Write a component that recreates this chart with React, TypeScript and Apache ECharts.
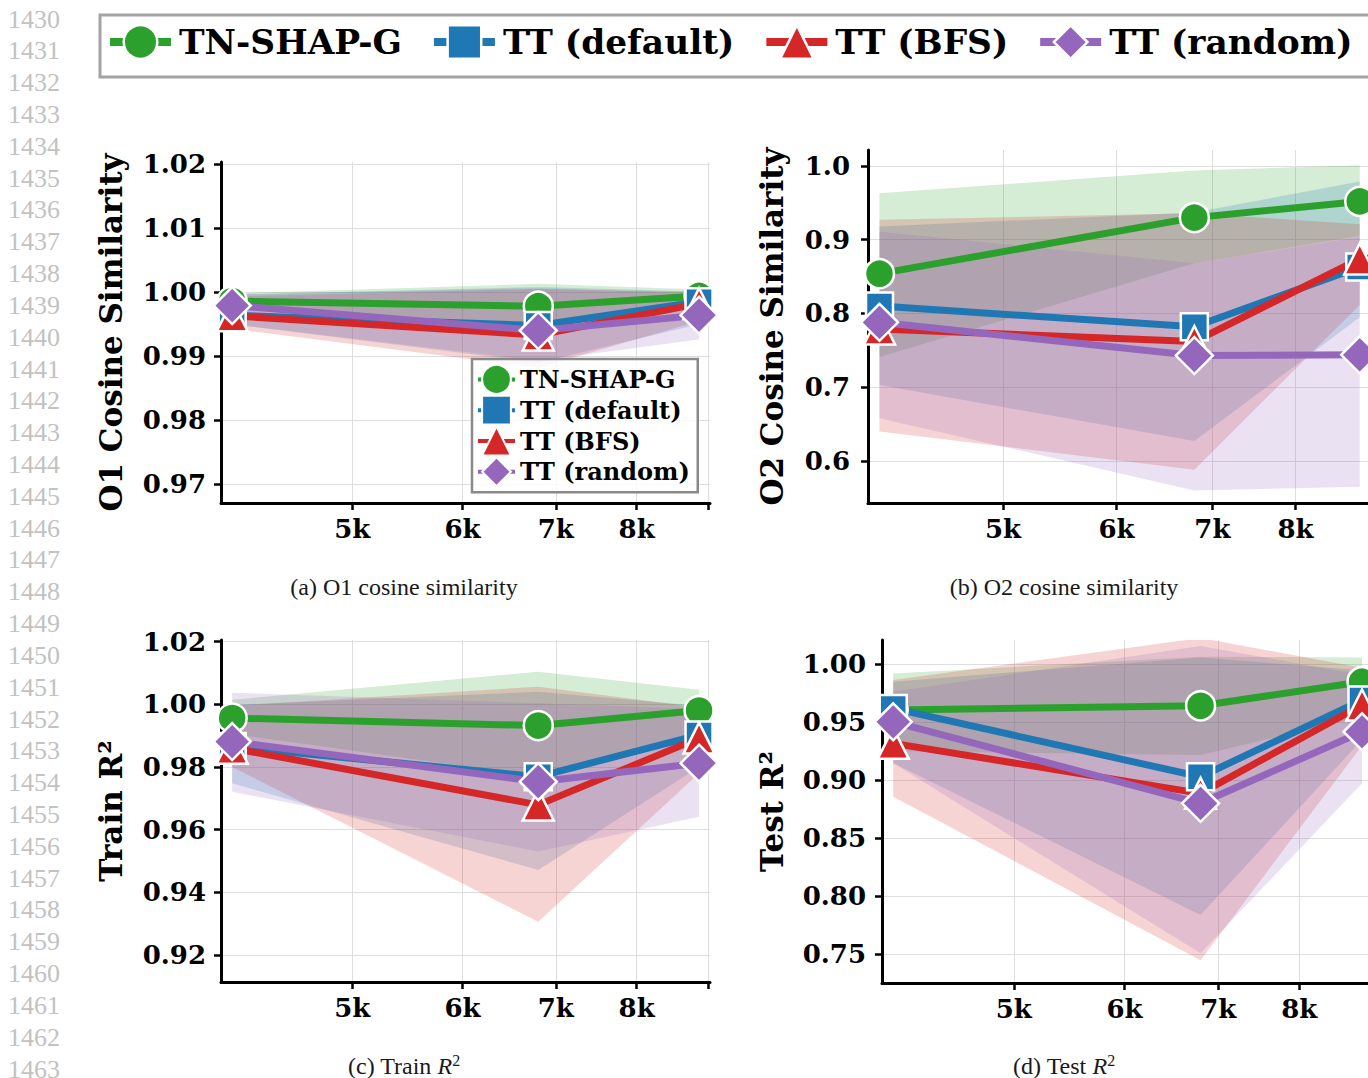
import React, { useEffect, useRef } from "react";
import * as echarts from "echarts";

const methodNames = ["TN-SHAP-G", "TT (default)", "TT (BFS)", "TT (random)"];
const methodColors = ["#2ca02c", "#1f77b4", "#d62728", "#9467bd"];
const bandFills = [
  "rgba(44,160,44,0.2)",
  "rgba(31,119,180,0.2)",
  "rgba(214,39,40,0.2)",
  "rgba(148,103,189,0.2)",
];
const methodSymbols = ["circle", "rect", "triangle", "diamond"];
const methodSymbolSizes = [29, 27, 31, 37];

const sampleSizes = [4100, 6800, 8870];
const xRange = [4025, 9032];
const xTickValues = [5000, 6000, 7000, 8000, 9000];
const xLabelValues = [5000, 6000, 7000, 8000];

// (a) O1 cosine similarity — rows: TN-SHAP-G, TT (default), TT (BFS), TT (random)
const o1Mean = [
  [0.9986, 0.9978, 0.9994],
  [0.9964, 0.9948, 0.9985],
  [0.9963, 0.9933, 0.9982],
  [0.9979, 0.994, 0.9964],
];
const o1Low = [
  [0.9975, 0.995, 0.9985],
  [0.995, 0.989, 0.995],
  [0.9943, 0.9882, 0.9955],
  [0.995, 0.9893, 0.9926],
];
const o1High = [
  [0.9998, 1.0013, 1.0004],
  [0.9996, 1.0008, 1.0001],
  [0.9993, 1.0005, 1.0],
  [0.9997, 1.0006, 0.9998],
];
const o1Ticks = [0.97, 0.98, 0.99, 1.0, 1.01, 1.02];

// (b) O2 cosine similarity
const o2Mean = [
  [0.854, 0.93, 0.952],
  [0.81, 0.782, 0.863],
  [0.779, 0.762, 0.874],
  [0.788, 0.743, 0.744],
];
const o2Low = [
  [0.741, 0.868, 0.905],
  [0.703, 0.627, 0.795],
  [0.64, 0.588, 0.812],
  [0.658, 0.56, 0.565],
];
const o2High = [
  [0.963, 0.994, 1.001],
  [0.918, 0.937, 0.979],
  [0.927, 0.936, 0.921],
  [0.911, 0.868, 0.904],
];
const o2Ticks = [0.6, 0.7, 0.8, 0.9, 1.0];

// (c) Train R^2
const trainMean = [
  [0.9956, 0.9932, 0.998],
  [0.9865, 0.9769, 0.9902],
  [0.986, 0.9679, 0.9892],
  [0.9881, 0.9753, 0.9812],
];
const trainLow = [
  [0.9905, 0.977, 0.9915],
  [0.9748, 0.9471, 0.98],
  [0.98, 0.9306, 0.978],
  [0.9721, 0.953, 0.9641],
];
const trainHigh = [
  [1.0014, 1.0104, 1.0046],
  [0.9998, 1.004, 0.9995],
  [0.9995, 1.0056, 0.999],
  [1.0037, 1.0003, 0.9985],
];
const trainTicks = [0.92, 0.94, 0.96, 0.98, 1.0, 1.02];

// (d) Test R^2
const testMean = [
  [0.9606, 0.9643, 0.985],
  [0.962, 0.9031, 0.9692],
  [0.9319, 0.8888, 0.965],
  [0.9505, 0.8802, 0.9419],
];
const testLow = [
  [0.925, 0.9218, 0.955],
  [0.915, 0.7839, 0.935],
  [0.8859, 0.745, 0.93],
  [0.9147, 0.7509, 0.8974],
];
const testHigh = [
  [0.9922, 1.0066, 1.006],
  [0.985, 1.006, 0.995],
  [0.9865, 1.0227, 0.997],
  [0.9764, 1.0158, 0.9908],
];
const testTicks = [0.75, 0.8, 0.85, 0.9, 0.95, 1.0];

const lineNumbers = Array.from({ length: 34 }, (_, i) => 1430 + i);

const BOLD = "DejaVu Serif";
const CAPTION_FONT = "Liberation Serif";

const panels = [
  {
    left: 221, top: 162, width: 489, height: 341,
    yMin: 0.9671, yMax: 1.0203, ticks: o1Ticks, decimals: 2,
    name: "O1 Cosine Similarity", nameGap: 95, labelMargin: 15,
    mean: o1Mean, low: o1Low, high: o1High,
    caption: "{n|(a) O1 cosine similarity}", capX: 404, capY: 587,
  },
  {
    left: 868, top: 150, width: 503, height: 353,
    yMin: 0.543, yMax: 1.0217, ticks: o2Ticks, decimals: 1,
    name: "O2 Cosine Similarity", nameGap: 81, labelMargin: 18,
    mean: o2Mean, low: o2Low, high: o2High,
    caption: "{n|(b) O2 cosine similarity}", capX: 1064, capY: 587,
  },
  {
    left: 221, top: 640, width: 489, height: 342,
    yMin: 0.9114, yMax: 1.0205, ticks: trainTicks, decimals: 2,
    name: "Train R\u00b2", nameGap: 95, labelMargin: 15,
    mean: trainMean, low: trainLow, high: trainHigh,
    caption: "{n|(c) Train }{i|R}{s|2}", capX: 404, capY: 1066,
  },
  {
    left: 882, top: 640, width: 491, height: 343,
    yMin: 0.7253, yMax: 1.021, ticks: testTicks, decimals: 2,
    name: "Test R\u00b2", nameGap: 95, labelMargin: 16,
    mean: testMean, low: testLow, high: testHigh,
    caption: "{n|(d) Test }{i|R}{s|2}", capX: 1064, capY: 1066,
  },
];

function buildOption() {
  const grid = panels.map((p) => ({
    left: p.left, top: p.top, width: p.width, height: p.height,
    containLabel: false, outerBoundsMode: "none",
  }));

  const xAxis = panels.map((p, i) => ({
    type: "value",
    gridIndex: i,
    min: Math.log10(xRange[0]),
    max: Math.log10(xRange[1]),
    axisLine: { show: true, onZero: false, lineStyle: { color: "#000", width: 3 } },
    axisTick: {
      show: true, length: 7, inside: false,
      lineStyle: { color: "#000", width: 2.5 },
      customValues: xTickValues.map((v) => Math.log10(v)),
    },
    axisLabel: {
      show: true,
      customValues: xLabelValues.map((v) => Math.log10(v)),
      formatter: (v: number) => `${Math.round(Math.pow(10, v) / 1000)}k`,
      color: "#000", fontFamily: BOLD, fontWeight: "bold", fontSize: 26, margin: 13,
    },
    splitLine: { show: true, lineStyle: { color: "#dedede", width: 1 } },
  }));

  const yAxis = panels.map((p, i) => ({
    type: "value",
    gridIndex: i,
    min: p.yMin,
    max: p.yMax,
    name: p.name,
    nameLocation: "middle",
    nameGap: p.nameGap,
    nameTextStyle: { color: "#000", fontFamily: BOLD, fontWeight: "bold", fontSize: 31 },
    axisLine: { show: true, onZero: false, lineStyle: { color: "#000", width: 3 } },
    axisTick: {
      show: true, length: 7, inside: false,
      lineStyle: { color: "#000", width: 2.5 },
      customValues: p.ticks,
    },
    axisLabel: {
      show: true,
      customValues: p.ticks,
      formatter: (v: number) => v.toFixed(p.decimals),
      color: "#000", fontFamily: BOLD, fontWeight: "bold", fontSize: 26, margin: p.labelMargin,
    },
    splitLine: { show: true, lineStyle: { color: "#dedede", width: 1 } },
  }));

  const series: any[] = [];
  panels.forEach((p, gi) => {
    methodNames.forEach((_, m) => {
      const lo = p.low[m];
      const hi = p.high[m];
      series.push({
        type: "custom",
        name: `band-${gi}-${m}`,
        xAxisIndex: gi,
        yAxisIndex: gi,
        clip: true,
        silent: true,
        z: 1,
        data: sampleSizes.map((n, i) => [Math.log10(n), lo[i], hi[i]]),
        encode: { x: 0, y: [1, 2] },
        renderItem: (params: any, api: any) => {
          if (params.dataIndex !== 0) return null;
          const upper = sampleSizes.map((n, i) => api.coord([Math.log10(n), hi[i]]));
          const lower = sampleSizes
            .map((n, i) => api.coord([Math.log10(n), lo[i]]))
            .reverse();
          return {
            type: "polygon",
            shape: { points: [...upper, ...lower] },
            style: { fill: bandFills[m], stroke: null },
          };
        },
      });
    });
  });
  panels.forEach((p, gi) => {
    methodNames.forEach((name, m) => {
      series.push({
        type: "line",
        name,
        xAxisIndex: gi,
        yAxisIndex: gi,
        data: sampleSizes.map((n, i) => [Math.log10(n), p.mean[m][i]]),
        symbol: methodSymbols[m],
        symbolSize: methodSymbolSizes[m],
        showSymbol: true,
        z: 3,
        lineStyle: { color: methodColors[m], width: 7 },
        itemStyle: { color: methodColors[m], borderColor: "#fff", borderWidth: 2.5 },
        emphasis: { disabled: true },
      });
    });
  });

  const graphic: any[] = [];
  lineNumbers.forEach((num, i) => {
    graphic.push({
      type: "text",
      x: 8,
      y: 19 + i * 31.82,
      silent: true,
      style: {
        text: String(num),
        fontFamily: CAPTION_FONT,
        fontSize: 26,
        fill: "#c2c2c2",
        align: "left",
        verticalAlign: "middle",
      },
    });
  });
  graphic.push({
    type: "rect",
    silent: true,
    z: -1,
    shape: { x: 100, y: 15, width: 1300, height: 62 },
    style: { fill: "#fff", stroke: "#a3a3a3", lineWidth: 3 },
  });
  panels.forEach((p) => {
    graphic.push({
      type: "text",
      x: p.capX,
      y: p.capY,
      silent: true,
      style: {
        text: p.caption,
        align: "center",
        verticalAlign: "middle",
        fontFamily: CAPTION_FONT,
        fontSize: 24,
        fill: "#1a1a1a",
        rich: {
          n: { fontFamily: CAPTION_FONT, fontSize: 24, fill: "#1a1a1a" },
          i: { fontFamily: CAPTION_FONT, fontSize: 24, fontStyle: "italic", fill: "#1a1a1a" },
          s: { fontFamily: CAPTION_FONT, fontSize: 16, fill: "#1a1a1a", padding: [0, 0, 12, 0] },
        },
      },
    });
  });

  const legendText = { color: "#000", fontFamily: BOLD, fontWeight: "bold" };

  return {
    animation: false,
    backgroundColor: "#ffffff",
    tooltip: { show: false },
    grid,
    xAxis,
    yAxis,
    series,
    graphic,
    legend: [
      {
        data: methodNames,
        orient: "horizontal",
        left: 106,
        top: 24,
        width: 1300,
        padding: 0,
        itemWidth: 61,
        itemHeight: 42,
        itemGap: 28,
        selectedMode: false,
        textStyle: { ...legendText, fontSize: 34.4, padding: [0, 0, 0, 3] },
        lineStyle: { width: 8 },
        itemStyle: { borderColor: "#fff", borderWidth: 2.5 },
      },
      {
        data: methodNames,
        orient: "vertical",
        left: 472,
        top: 359,
        padding: [5, 8, 5, 4],
        itemWidth: 37,
        itemHeight: 36,
        itemGap: 0,
        selectedMode: false,
        backgroundColor: "rgba(255,255,255,0.8)",
        borderColor: "#8a8a8a",
        borderWidth: 2.5,
        borderRadius: 0,
        textStyle: { ...legendText, fontSize: 24 },
        lineStyle: { width: 4 },
        itemStyle: { borderColor: "#fff", borderWidth: 2 },
      },
    ],
  };
}

export default function App() {
  const ref = useRef<HTMLDivElement>(null);
  useEffect(() => {
    if (!ref.current) return;
    const chart = echarts.init(ref.current, undefined, { renderer: "svg" });
    chart.setOption(buildOption() as any);
    return () => chart.dispose();
  }, []);
  return (
    <div
      ref={ref}
      style={{ position: "absolute", left: 0, top: 0, width: 1368, height: 1078, background: "#fff" }}
    />
  );
}
